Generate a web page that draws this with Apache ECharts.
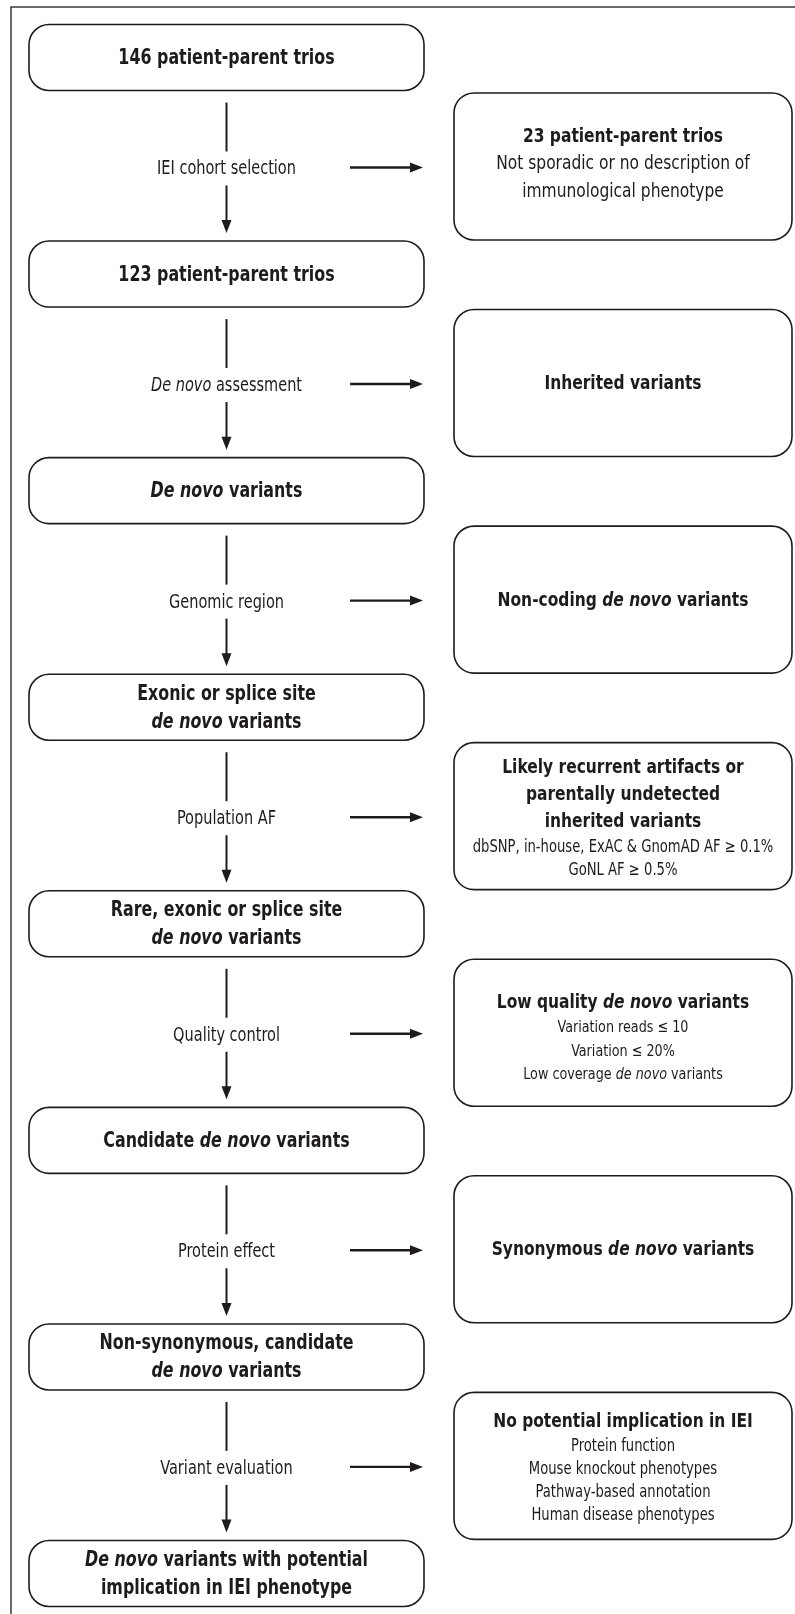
<!DOCTYPE html>
<html><head><meta charset="utf-8">
<script src="https://cdn.jsdelivr.net/npm/echarts@6/dist/echarts.min.js"></script>
<style>html,body{margin:0;padding:0;background:#fff}#c{width:795px;height:1614px}</style>
</head><body><div id="c"></div>
<script>
// ---- content ----
const mainSteps = [
  '146 patient-parent trios',
  '123 patient-parent trios',
  '*De novo* variants',
  'Exonic or splice site\n*de novo* variants',
  'Rare, exonic or splice site\n*de novo* variants',
  'Candidate *de novo* variants',
  'Non-synonymous, candidate\n*de novo* variants',
  '*De novo* variants with potential\nimplication in IEI phenotype'
];
const filterLabels = [
  'IEI cohort selection',
  '*De novo* assessment',
  'Genomic region',
  'Population AF',
  'Quality control',
  'Protein effect',
  'Variant evaluation'
];
const excludedTitles = [
  '23 patient-parent trios',
  'Inherited variants',
  'Non-coding *de novo* variants',
  'Likely recurrent artifacts or\nparentally undetected\ninherited variants',
  'Low quality *de novo* variants',
  'Synonymous *de novo* variants',
  'No potential implication in IEI'
];
const excludedDetails = [
  ['Not sporadic or no description of', 'immunological phenotype'],
  [],
  [],
  ['dbSNP, in-house, ExAC & GnomAD AF \u2265 0.1%', 'GoNL AF \u2265 0.5%'],
  ['Variation reads \u2264 10', 'Variation \u2264 20%', 'Low coverage *de novo* variants'],
  [],
  ['Protein function', 'Mouse knockout phenotypes', 'Pathway-based annotation', 'Human disease phenotypes']
];

// ---- layout & style ----
const INK = '#1f1b1c';
const FONT = "'Liberation Sans Narrow','DejaVu Sans Condensed','Roboto Condensed',sans-serif";
const L = {
  mainX: 29, mainW: 395, mainH: 66,
  exX: 454, exW: 338, exH: 147,
  r: 20, lineX: 226.5,
  labelOff: 0.517, exOff: 0.503,
  arrowX0: 350, arrowX1: 423,
  mainScale: 0.84, labelScale: 0.85, exScale: 0.86
};
const detailStyle = ['dl', 'd', 'd', 'd', 'dm', 'd', 'd'];
const exTextShift = [-2, 1, 1, 2, 5, 1, 2];
function st(size, weight, italic, lh) {
  return { fill: INK, fontSize: size, fontWeight: weight, fontStyle: italic ? 'italic' : 'normal', fontFamily: FONT, lineHeight: lh };
}
const RICH = {
  m: st(21, 'bold', false, 28), mi: st(21, 'bold', true, 28),
  t: st(20, 'bold', false, 27), ti: st(20, 'bold', true, 27),
  l: st(19, 'normal', false, 24), li: st(19, 'normal', true, 24),
  dl: st(20, 'normal', false, 28), dli: st(20, 'normal', true, 28),
  d: st(17, 'normal', false, 23), di: st(17, 'normal', true, 23),
  dm: st(16.5, 'normal', false, 23.5), dmi: st(16.5, 'normal', true, 23.5)
};
function toRich(text, key) {
  return text.split('\n').map(line =>
    line.split('*').map((p, k) => p ? '{' + key + (k % 2 ? 'i' : '') + '|' + p + '}' : '').join('')
  ).join('\n');
}
function label(text, x, y, scale) {
  return { type: 'text', x: x, y: y, scaleX: scale, scaleY: 1,
    style: { text: text, x: 0, y: 0, align: 'center', verticalAlign: 'middle', rich: RICH } };
}
function arrowDown(x, y0, y1) {
  return [
    { type: 'line', shape: { x1: x, y1: y0, x2: x, y2: y1 - 9 }, style: { stroke: INK, lineWidth: 2 } },
    { type: 'polygon', shape: { points: [[x - 5, y1 - 13], [x + 5, y1 - 13], [x, y1]] }, style: { fill: INK } }
  ];
}
function arrowRight(x0, x1, y) {
  return [
    { type: 'line', shape: { x1: x0, y1: y, x2: x1 - 9, y2: y }, style: { stroke: INK, lineWidth: 2.4 } },
    { type: 'polygon', shape: { points: [[x1 - 13, y - 5], [x1 - 13, y + 5], [x1, y]] }, style: { fill: INK } }
  ];
}

const chart = echarts.init(document.getElementById('c'), null, { renderer: 'canvas' });
chart.setOption({
  animation: false,
  backgroundColor: '#fff',
  grid: { left: 0, right: 0, top: 57.5, bottom: 40.5 },
  xAxis: { type: 'value', min: 0, max: 1, show: false },
  yAxis: { type: 'value', min: 0, max: 7, inverse: true, show: false },
  graphic: [
    { type: 'polyline', shape: { points: [[11, 1614], [11, 7], [795, 7]] }, style: { stroke: '#3a3a3a', lineWidth: 1.5, fill: null } }
  ],
  series: [
    {
      type: 'custom', silent: true,
      data: mainSteps.map((_, i) => [0.5, i]),
      renderItem: function (params, api) {
        const i = api.value(1);
        const cy = api.coord([0.5, i])[1];
        return { type: 'group', children: [
          { type: 'rect', shape: { x: L.mainX, y: cy - L.mainH / 2, width: L.mainW, height: L.mainH, r: L.r }, style: { fill: '#fff', stroke: INK, lineWidth: 1.6 } },
          label(toRich(mainSteps[i], 'm'), L.mainX + L.mainW / 2, cy + 1, L.mainScale)
        ] };
      }
    },
    {
      type: 'custom', silent: true,
      data: filterLabels.map((_, i) => [0.5, i]),
      renderItem: function (params, api) {
        const i = api.value(1);
        const top = api.coord([0.5, i])[1] + L.mainH / 2;
        const next = api.coord([0.5, i + 1])[1] - L.mainH / 2;
        const ly = api.coord([0.5, i + L.labelOff])[1];
        return { type: 'group', children: [
          { type: 'line', shape: { x1: L.lineX, y1: top + 12, x2: L.lineX, y2: ly - 18 }, style: { stroke: INK, lineWidth: 2 } },
          label(toRich(filterLabels[i], 'l'), L.lineX, ly, L.labelScale)
        ].concat(arrowDown(L.lineX, ly + 16, next - 8)).concat(arrowRight(L.arrowX0, L.arrowX1, ly - 2)) };
      }
    },
    {
      type: 'custom', silent: true,
      data: excludedTitles.map((_, i) => [0.5, i + L.exOff]),
      renderItem: function (params, api) {
        const idx = params.dataIndex;
        const cy = api.coord([0.5, api.value(1)])[1];
        let txt = toRich(excludedTitles[idx], 't');
        const det = excludedDetails[idx];
        if (det.length) txt += '\n' + det.map(s => toRich(s, detailStyle[idx])).join('\n');
        return { type: 'group', children: [
          { type: 'rect', shape: { x: L.exX, y: cy - L.exH / 2, width: L.exW, height: L.exH, r: L.r }, style: { fill: '#fff', stroke: INK, lineWidth: 1.6 } },
          label(txt, L.exX + L.exW / 2, cy + exTextShift[idx], L.exScale)
        ] };
      }
    }
  ]
});
</script>
</body></html>
